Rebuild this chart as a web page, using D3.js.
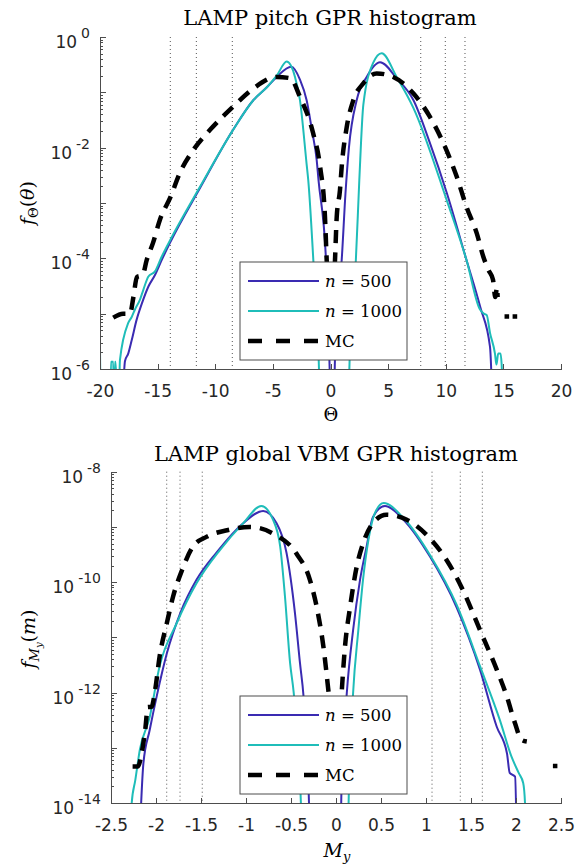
<!DOCTYPE html>
<meta charset="utf-8">
<head>
<script src="https://cdn.jsdelivr.net/npm/d3@7"></script>
<style>
body { margin: 0; background: #fff; }
.ticklab { font: 17px "DejaVu Sans", sans-serif; fill: #262626; }
.tex { font-family: "DejaVu Serif", serif; fill: #000; }
.axis path, .axis line { stroke: #4d4d4d; stroke-width: 1; shape-rendering: crispEdges; }
</style>
</head>
<body>
<script>

// ---------- pitch (top panel) ----------
var pitchXTicks = [-20, -15, -10, -5, 0, 5, 10, 15, 20];
var pitchYExp = [0, -2, -4, -6];
var pitchDotted = [-13.9, -11.64, -8.52, 7.83, 9.96, 11.67];

var pitchX500 = [-18.1, -17.83, -17.55, -17.25, -16.82, -16.38, -15.8, -15.23, -14.65, -13.93, -11.3, -8.45, -6.7, -5.5, -4.67, -3.4,
                 -2.65, -2.07, -1.6, -1.2, -1.04, -0.39, -0.16, 0.1, 0.2, 0.5, 0.97, 1.3, 1.6, 2.27, 3.14, 4.3,
                 5.74, 7.2, 8.6, 10.1, 11.8, 13.0, 13.84, 14.1];
var pitchY500 = [1e-7, 1.4e-6, 1.9e-6, 3.3e-6, 7.8e-6, 1.5e-5, 3.1e-5, 5.0e-5, 9.3e-5, 1.9e-4, 1.9e-3, 0.021, 0.072, 0.125, 0.19, 0.29,
                 0.17, 0.072, 0.02, 6.0e-3, 2.6e-3, 9.3e-5, 4.5e-6, 1e-7, 1e-7, 1e-5, 9.3e-5, 1.5e-3, 0.01, 0.072, 0.19, 0.35,
                 0.18, 0.072, 0.0126, 1.5e-3, 9.3e-5, 1.3e-5, 2.5e-6, 1e-7];

var pitchX1000 = [-20, -19.9, -19.1, -19.05, -18.85, -18.8, -18.7, -18.65, -18.4, -18.27, -17.55, -17.25, -16.96, -16.53, -16.24,
                  -15.8, -15.23, -14.65, -13.93, -11.3, -8.45, -6.7, -5.5, -4.67, -3.8, -3.08, -2.65, -2.07, -1.93, -1.49, -1.0, -0.9,
                  1.42, 1.8, 2.2, 2.5, 2.85, 3.7, 4.44, 5.74, 7.2, 10.1, 11.8, 12.96, 13.3, 13.55, 13.84, 14.27, 14.4,
                  14.55, 14.75, 14.85, 15.0];
var pitchY1000 = [2.2e-6, 1e-7, 1e-7, 1.35e-6, 1.35e-6, 1e-7, 1.35e-6, 1.35e-6, 1e-7, 1.45e-6, 6.8e-6, 8.7e-6, 1.2e-5, 1.8e-5, 2.7e-5,
                  4.7e-5, 5.8e-5, 1.07e-4, 2.1e-4, 2.0e-3, 0.021, 0.072, 0.125, 0.2, 0.36, 0.19, 0.072, 5.0e-3, 2.6e-3, 9.3e-5, 1e-6, 1e-7,
                  1e-7, 1e-5, 9.3e-5, 2.6e-3, 0.06, 0.34, 0.51, 0.19, 0.052, 1.1e-3, 9.3e-5, 1.2e-5, 1.0e-5, 9.5e-6, 4.5e-6, 1.9e-6, 1.2e-6,
                  1.9e-6, 1.9e-6, 1.2e-6, 1e-7];

var pitchXMC = [-18.85, -18.0, -17.4, -17.1, -16.8, -16.3, -15.95, -15.4, -14.8, -13.9, -13.1, -11.9, -10.45, -8.45, -6.7, -4.67,
                -3.5, -2.65, -1.5, -0.9, -0.48, -0.33, -0.1, 0.15, 0.39, 0.54, 0.82, 0.97, 1.4, 1.98, 2.85, 4.0, 5.16, 7.2,
                8.63, 9.8, 10.95, 11.8, 12.7, 13.26, 13.7, 14.1, 14.3, 14.45, 14.5, null, 15.1, 15.5, null, 15.8, 16.2];
var pitchYMC = [8.5e-6, 1.0e-5, 1.0e-5, 2.0e-5, 4.6e-5, 5.0e-5, 9.3e-5, 1.9e-4, 5.0e-4, 1.26e-3, 3.4e-3, 9.1e-3, 0.021, 0.055, 0.117, 0.19,
                0.18, 0.083, 0.018, 4.5e-3, 5.6e-4, 9.3e-5, 1e-5, 1e-5, 9.3e-5, 5.6e-4, 1.7e-3, 4.5e-3, 0.023, 0.072, 0.145, 0.22, 0.2, 0.095,
                0.036, 0.012, 3.0e-3, 8.5e-4, 2.8e-4, 1.07e-4, 6.2e-5, 4.1e-5, 2.0e-5, 3.0e-5, 2.0e-5, null, 8.9e-6, 8.9e-6, null, 8.9e-6, 8.9e-6];

// ---------- VBM (bottom panel) ----------
var vbmXTicks = [-2.5, -2, -1.5, -1, -0.5, 0, 0.5, 1, 1.5, 2, 2.5];
var vbmYExp = [-8, -10, -12, -14];
var vbmDotted = [-1.881, -1.733, -1.486, 1.067, 1.381, 1.626];

var vbmX500 = [-2.19, -2.14, -2.07, -1.99, -1.88, -1.73, -1.55, -1.33, -1.03, -0.81, -0.66, -0.55, -0.456, -0.4, -0.36, -0.3, -0.29,
               0.045, 0.063, 0.12, 0.19, 0.267, 0.34, 0.41, 0.544, 0.75, 1.044, 1.34, 1.6, 1.786, 1.9, 1.93, 1.99, 2.01];
var vbmY500 = [1e-15, 5.2e-14, 2.1e-13, 8.9e-13, 5.1e-12, 2.75e-11, 1.1e-10, 3.4e-10, 1.17e-9, 1.95e-9, 1.17e-9, 3.4e-10, 2.75e-11, 3.4e-12, 8.3e-13, 1e-14, 1e-15,
               1e-15, 2.6e-14, 9.8e-13, 1.35e-11, 1.1e-10, 4.4e-10, 1.5e-9, 2.4e-9, 1.35e-9, 2.9e-10, 3.5e-11, 2.6e-12, 2.4e-13, 7.9e-14, 3.5e-14, 3.0e-14, 1e-15];

var vbmX1000 = [-2.28, -2.27, -2.23, -2.18, -2.07, -1.96, -1.77, -1.55, -1.29, -1.03, -0.83, -0.70, -0.62, -0.567, -0.51, -0.47, -0.39, -0.38,
                0.13, 0.14, 0.19, 0.248, 0.30, 0.36, 0.433, 0.53, 0.75, 1.044, 1.34, 1.6, 1.82, 1.95, 2.03, 2.08, 2.1, 2.11];
var vbmY1000 = [1e-15, 1e-14, 2.6e-14, 9.1e-14, 3.6e-13, 3.0e-12, 1.8e-11, 9.5e-11, 3.8e-10, 1.17e-9, 2.4e-9, 1.35e-9, 4.4e-10, 5.5e-11, 3.4e-12, 1e-12, 1e-14, 1e-15,
                1e-15, 1e-14, 9.8e-13, 1.35e-11, 1.1e-10, 5.8e-10, 1.8e-9, 2.7e-9, 1.45e-9, 3.1e-10, 3.9e-11, 3.0e-12, 3.2e-13, 6.9e-14, 3.5e-14, 2.3e-14, 1e-14, 1e-15];

var vbmXMC = [-2.26, -2.2, -2.16, -2.12, -2.09, -2.05, -2.01, -1.96, -1.88, -1.81, -1.71, -1.59, -1.44, -1.21, -0.96, -0.70, -0.44, -0.29,
              -0.20, -0.14, -0.085, -0.02, 0.03, 0.067, 0.1, 0.156, 0.23, 0.30, 0.41, 0.56, 0.786, 1.044, 1.23, 1.41, 1.6, 1.786, 1.9,
              1.99, 2.06, 2.12, null, 2.41, 2.46];
var vbmYMC = [4.6e-14, 4.6e-14, 7.9e-14, 2.1e-13, 5.5e-13, 5.5e-13, 1.1e-12, 4.5e-12, 1.8e-11, 5.5e-11, 1.66e-10, 4.4e-10, 6.6e-10, 8.7e-10, 1.0e-9, 7.6e-10, 3.3e-10, 1.1e-10,
              2.7e-11, 6.8e-12, 1.1e-12, 1e-13, 1e-13, 1.26e-12, 6.8e-12, 3.5e-11, 1.9e-10, 5.0e-10, 1.17e-9, 1.66e-9, 1.35e-9, 6.2e-10, 2.5e-10, 7.2e-11, 1.35e-11, 2.6e-12, 8.3e-13,
              2.75e-13, 1.4e-13, 1.3e-13, null, 4.7e-14, 4.7e-14];

var col500 = "#3a2bb2", col1000 = "#1fbdb9";

var W = 579, H = 866;
var svg = d3.select("body").append("svg").attr("width", W).attr("height", H);

function zipXY(xs, ys) {
  return xs.map(function(d, i) { return [d, ys[i]]; });
}

function drawPanel(p) {
  var x = d3.scaleLinear().domain(p.xDomain).range([p.left, p.right]);
  var y = d3.scaleLog().domain(p.yDomain).range([p.bottom, p.top]);

  svg.append("clipPath").attr("id", p.id)
    .append("rect").attr("x", p.left).attr("y", p.top)
    .attr("width", p.right - p.left).attr("height", p.bottom - p.top);

  var g = svg.append("g");

  // dotted reference lines
  g.selectAll(".dot").data(p.dotted).enter().append("line")
    .attr("x1", function(d) { return x(d); }).attr("x2", function(d) { return x(d); })
    .attr("y1", p.top).attr("y2", p.bottom)
    .attr("stroke", "#555").attr("stroke-width", 1).attr("stroke-dasharray", "1,3");

  var line = d3.line()
    .defined(function(d) { return d[0] !== null && d[1] !== null; })
    .x(function(d) { return x(d[0]); })
    .y(function(d) { return y(d[1]); })
    .curve(d3.curveMonotoneX);

  var cg = g.append("g").attr("clip-path", "url(#" + p.id + ")");
  p.series.forEach(function(s) {
    cg.append("path").datum(zipXY(s.xs, s.ys))
      .attr("d", line).attr("fill", "none")
      .attr("stroke", s.color).attr("stroke-width", s.width)
      .attr("stroke-dasharray", s.dash || null)
      .attr("stroke-linejoin", "round");
  });

  // axes
  var xAxis = d3.axisBottom(x).tickValues(p.xTicks).tickSizeInner(-5).tickSizeOuter(0)
    .tickPadding(16).tickFormat(function(d) { return String(d); });
  var gx = g.append("g").attr("class", "axis").attr("transform", "translate(0," + p.bottom + ")").call(xAxis);
  gx.selectAll("text").attr("class", "ticklab").attr("fill", null);

  var decades = d3.range(p.yExpMin, p.yExpMax + 1).map(function(e) { return Math.pow(10, e); });
  var minors = y.ticks().filter(function(v) {
    var l = Math.log10(v); return Math.abs(l - Math.round(l)) > 1e-6;
  });
  g.append("g").attr("class", "axis").attr("transform", "translate(" + p.left + ",0)")
    .call(d3.axisLeft(y).tickValues(decades).tickSizeInner(-6).tickSizeOuter(0).tickFormat(""));
  g.append("g").attr("class", "axis").attr("transform", "translate(" + p.left + ",0)")
    .call(d3.axisLeft(y).tickValues(minors).tickSizeInner(-3).tickSizeOuter(0).tickFormat(""))
    .select(".domain").remove();

  var yl = g.selectAll(".ylab").data(p.yExp).enter().append("text")
    .attr("class", "ticklab").attr("text-anchor", "end")
    .attr("x", p.left - 10).attr("y", function(e) { return y(Math.pow(10, e)) + 11; });
  yl.append("tspan").text("10");
  yl.append("tspan").attr("dx", 4).attr("dy", -10).style("font-size", "14px").text(function(e) { return String(e); });

  // title
  g.append("text").attr("class", "tex").attr("x", p.titleX).attr("y", p.titleY)
    .attr("text-anchor", "middle").style("font-size", "21px").text(p.title);

  // legend
  var lg = g.append("g");
  lg.append("rect").attr("x", p.legend[0]).attr("y", p.legend[1]).attr("width", 167).attr("height", 98)
    .attr("fill", "#fff").attr("stroke", "#4d4d4d").attr("stroke-width", 1);
  p.series.forEach(function(s, i) {
    var yy = p.legend[1] + 19 + i * 30;
    lg.append("line").attr("x1", p.legend[0] + 8).attr("x2", p.legend[0] + 79)
      .attr("y1", yy).attr("y2", yy).attr("stroke", s.color).attr("stroke-width", s.width)
      .attr("stroke-dasharray", s.dash ? "14,14" : null);
    var t = lg.append("text").attr("class", "tex").style("font-size", "16.5px")
      .attr("x", p.legend[0] + 85).attr("y", yy + 6);
    if (s.n) {
      t.append("tspan").style("font-style", "italic").text("n");
      t.append("tspan").text(" = " + s.n);
    } else {
      t.text("MC");
    }
  });
}

drawPanel({
  id: "clipTop", left: 100, right: 561, top: 37, bottom: 369,
  xDomain: [-20, 20], yDomain: [1e-6, 1], yExpMin: -6, yExpMax: 0,
  xTicks: pitchXTicks, yExp: pitchYExp, dotted: pitchDotted,
  title: "LAMP pitch GPR histogram", titleX: 330, titleY: 25,
  legend: [240, 262],
  series: [
    { xs: pitchX500, ys: pitchY500, color: col500, width: 2, n: "500" },
    { xs: pitchX1000, ys: pitchY1000, color: col1000, width: 2, n: "1000" },
    { xs: pitchXMC, ys: pitchYMC, color: "#000", width: 4.5, dash: "13,9" }
  ]
});

drawPanel({
  id: "clipBot", left: 111, right: 561, top: 471.7, bottom: 803,
  xDomain: [-2.5, 2.5], yDomain: [1e-14, 1e-8], yExpMin: -14, yExpMax: -8,
  xTicks: vbmXTicks, yExp: vbmYExp, dotted: vbmDotted,
  title: "LAMP global VBM GPR histogram", titleX: 336, titleY: 461,
  legend: [240, 696],
  series: [
    { xs: vbmX500, ys: vbmY500, color: col500, width: 2, n: "500" },
    { xs: vbmX1000, ys: vbmY1000, color: col1000, width: 2, n: "1000" },
    { xs: vbmXMC, ys: vbmYMC, color: "#000", width: 4.5, dash: "13,9" }
  ]
});

// axis labels
svg.append("text").attr("class", "tex").attr("x", 331).attr("y", 421)
  .attr("text-anchor", "middle").style("font-size", "18px").text("Θ");

var mx = svg.append("text").attr("class", "tex").attr("x", 337).attr("y", 857)
  .attr("text-anchor", "middle").style("font-size", "19px");
mx.append("tspan").style("font-style", "italic").text("M");
mx.append("tspan").style("font-style", "italic").style("font-size", "13px").attr("dy", 4).text("y");

var fy1 = svg.append("text").attr("class", "tex").attr("text-anchor", "middle")
  .attr("transform", "translate(34,203) rotate(-90)").style("font-size", "19px");
fy1.append("tspan").style("font-style", "italic").text("f");
fy1.append("tspan").style("font-size", "13px").attr("dy", 4).text("Θ");
fy1.append("tspan").attr("dy", -4).text("(");
fy1.append("tspan").style("font-style", "italic").text("θ");
fy1.append("tspan").text(")");

var fy2 = svg.append("text").attr("class", "tex").attr("text-anchor", "middle")
  .attr("transform", "translate(35,639) rotate(-90)").style("font-size", "19px");
fy2.append("tspan").style("font-style", "italic").text("f");
fy2.append("tspan").style("font-style", "italic").style("font-size", "13px").attr("dy", 4).text("M");
fy2.append("tspan").style("font-style", "italic").style("font-size", "10px").attr("dy", 3).text("y");
fy2.append("tspan").attr("dy", -7).text("(");
fy2.append("tspan").style("font-style", "italic").text("m");
fy2.append("tspan").text(")");

</script>
</body>
